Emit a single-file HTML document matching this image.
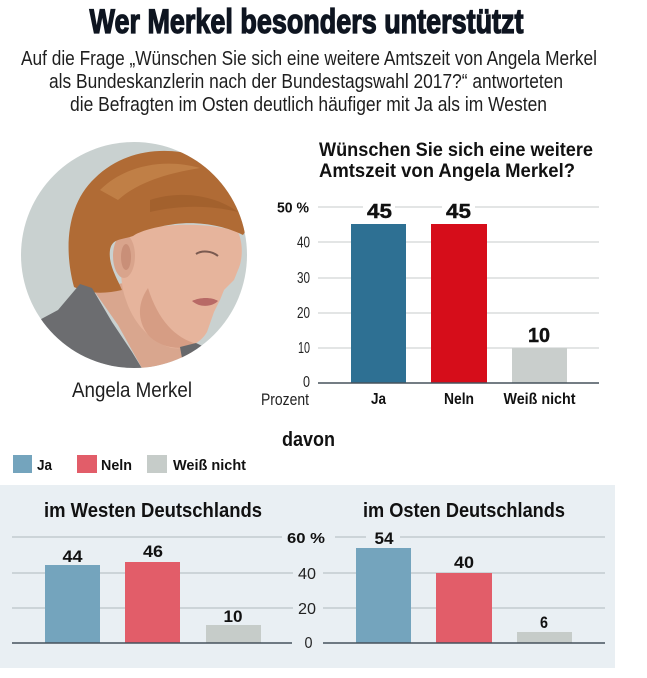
<!DOCTYPE html>
<html><head><meta charset="utf-8"><style>
html,body{margin:0;padding:0;background:#fff;}
svg{display:block;}
text{font-family:"Liberation Sans",sans-serif;}
</style></head><body>
<svg width="647" height="678" viewBox="0 0 647 678" xmlns="http://www.w3.org/2000/svg">
<rect width="647" height="678" fill="#fff"/>

<!-- Header -->
<text x="306.5" y="33" font-size="34" font-weight="bold" fill="#0e1520" stroke="#0e1520" stroke-width="1.3" text-anchor="middle" textLength="434" lengthAdjust="spacingAndGlyphs">Wer Merkel besonders unterstützt</text>
<text x="309" y="65" font-size="20" fill="#1e1e1e" text-anchor="middle" textLength="576" lengthAdjust="spacingAndGlyphs">Auf die Frage „Wünschen Sie sich eine weitere Amtszeit von Angela Merkel</text>
<text x="306" y="88" font-size="20" fill="#1e1e1e" text-anchor="middle" textLength="514" lengthAdjust="spacingAndGlyphs">als Bundeskanzlerin nach der Bundestagswahl 2017?“ antworteten</text>
<text x="308.5" y="111" font-size="20" fill="#1e1e1e" text-anchor="middle" textLength="477" lengthAdjust="spacingAndGlyphs">die Befragten im Osten deutlich häufiger mit Ja als im Westen</text>

<!-- Photo -->
<defs><clipPath id="cc"><circle cx="134" cy="255" r="113"/></clipPath></defs>
<circle cx="134" cy="255" r="113" fill="#c9d1d0"/>
<g clip-path="url(#cc)">
  <!-- neck skin -->
  <path d="M92,288 L130,282 L165,320 L190,343 L195,360 L175,370 L143,370 L118,325 Z" fill="#d9a68e"/>
  <!-- face -->
  <path d="M128,234 C160,222 210,222 238,232 C244,245 242,262 238,270 L234,280 L224,290 L220,300 L214,312 L207,332 C200,344 186,350 172,348 C150,342 133,322 126,300 C120,285 118,255 128,234 Z" fill="#e6b49c"/>
  <path d="M148,288 C158,320 175,338 197,344 C185,350 165,350 150,337 C138,324 136,305 148,288 Z" fill="#d69d84"/>
  <!-- eye, lips -->
  <path d="M196,254 C202,250 212,251 218,256" stroke="#7a5a50" stroke-width="2" fill="none"/>
  <path d="M192,301 C200,297 212,297 218,301 C212,307 200,308 192,301 Z" fill="#b86a66"/>
  <!-- ear -->
  <ellipse cx="124" cy="256" rx="11" ry="22" fill="#d9a48c"/>
  <ellipse cx="126" cy="257" rx="5" ry="13" fill="#c98f78"/>
  <!-- hair -->
  <path d="M74,287 C64,250 66,205 95,178 C118,155 150,148 180,152 C215,156 246,180 248,212 C249,222 247,230 243,235 C225,226 200,221 175,224 C155,227 140,231 133,236 C122,240 112,238 110,250 C108,265 118,280 122,290 C105,294 88,294 74,287 Z" fill="#b06b35"/>
  <path d="M100,190 C125,165 165,158 200,168 C175,172 140,180 118,200 Z" fill="#c4854b" opacity="0.8"/>
  <path d="M150,200 C180,190 215,195 238,212 C210,205 180,205 150,212 Z" fill="#9e5c2b" opacity="0.7"/>
  <!-- jacket -->
  <path d="M30,325 L58,310 L80,284 L92,288 L112,322 L132,352 L146,375 L20,375 Z" fill="#6c6d70"/>
  <path d="M180,347 L196,343 L215,352 L220,375 L185,375 Z" fill="#67686b"/>
</g>
<text x="132" y="397" font-size="21" fill="#1e1e1e" text-anchor="middle" textLength="120" lengthAdjust="spacingAndGlyphs">Angela Merkel</text>

<!-- Top chart -->
<text x="319" y="156" font-size="19" font-weight="bold" fill="#111" textLength="274" lengthAdjust="spacingAndGlyphs">Wünschen Sie sich eine weitere</text>
<text x="319" y="177" font-size="19" font-weight="bold" fill="#111" textLength="256" lengthAdjust="spacingAndGlyphs">Amtszeit von Angela Merkel?</text>
<g stroke="#d2d5d5" stroke-width="1.3">
  <line x1="318" y1="207" x2="599" y2="207"/>
  <line x1="318" y1="242" x2="599" y2="242"/>
  <line x1="318" y1="278" x2="599" y2="278"/>
  <line x1="318" y1="313" x2="599" y2="313"/>
  <line x1="318" y1="348" x2="599" y2="348"/>
</g>
<rect x="363" y="200" width="32" height="12" fill="#fff"/>
<rect x="442" y="200" width="33" height="12" fill="#fff"/>
<rect x="351" y="224" width="55" height="159" fill="#2e7093"/>
<rect x="431" y="224" width="56" height="159" fill="#d60d1a"/>
<rect x="512" y="348" width="55" height="35" fill="#c9cecc"/>
<line x1="318" y1="383" x2="599" y2="383" stroke="#46525c" stroke-width="1.6"/>
<g font-size="20" font-weight="bold" fill="#111" text-anchor="middle" stroke="#111" stroke-width="0.4">
  <text x="379.5" y="218" textLength="25" lengthAdjust="spacingAndGlyphs">45</text>
  <text x="458.5" y="218" textLength="25" lengthAdjust="spacingAndGlyphs">45</text>
  <text x="539" y="342" textLength="22" lengthAdjust="spacingAndGlyphs">10</text>
</g>
<text x="309" y="212.5" font-size="15" font-weight="bold" fill="#111" text-anchor="end" textLength="32" lengthAdjust="spacingAndGlyphs">50 %</text>
<g font-size="16" fill="#222" text-anchor="end">
  <text x="310" y="247.5" textLength="13" lengthAdjust="spacingAndGlyphs">40</text>
  <text x="310" y="283" textLength="13" lengthAdjust="spacingAndGlyphs">30</text>
  <text x="310" y="318" textLength="13" lengthAdjust="spacingAndGlyphs">20</text>
  <text x="310" y="353" textLength="12" lengthAdjust="spacingAndGlyphs">10</text>
  <text x="310" y="387" textLength="7" lengthAdjust="spacingAndGlyphs">0</text>
</g>
<text x="261" y="405" font-size="17" fill="#222" textLength="48" lengthAdjust="spacingAndGlyphs">Prozent</text>
<g font-size="16" font-weight="bold" fill="#111" text-anchor="middle">
  <text x="378.5" y="404" textLength="15" lengthAdjust="spacingAndGlyphs">Ja</text>
  <text x="459" y="404" textLength="30" lengthAdjust="spacingAndGlyphs">Neln</text>
  <text x="539.5" y="404" textLength="72" lengthAdjust="spacingAndGlyphs">Weiß nicht</text>
</g>

<!-- davon + legend -->
<text x="282" y="446" font-size="20" font-weight="bold" fill="#111" textLength="53" lengthAdjust="spacingAndGlyphs">davon</text>
<rect x="13" y="455" width="19" height="18" fill="#74a4bd"/>
<rect x="77" y="455" width="20" height="18" fill="#e25d69"/>
<rect x="147" y="455" width="20" height="18" fill="#c6ccc9"/>
<g font-size="15" font-weight="bold" fill="#111">
  <text x="37" y="470" textLength="15" lengthAdjust="spacingAndGlyphs">Ja</text>
  <text x="101" y="470" textLength="31" lengthAdjust="spacingAndGlyphs">Neln</text>
  <text x="173" y="470" textLength="73" lengthAdjust="spacingAndGlyphs">Weiß nicht</text>
</g>

<!-- bottom panel -->
<rect x="0" y="485" width="615" height="183" fill="#e9eff3"/>
<text x="44" y="517" font-size="20" font-weight="bold" fill="#111" textLength="218" lengthAdjust="spacingAndGlyphs">im Westen Deutschlands</text>
<text x="363" y="517" font-size="20" font-weight="bold" fill="#111" textLength="202" lengthAdjust="spacingAndGlyphs">im Osten Deutschlands</text>
<g stroke="#bcc3c7" stroke-width="1.3">
  <line x1="12" y1="537" x2="282" y2="537"/>
  <line x1="12" y1="573" x2="293" y2="573"/>
  <line x1="12" y1="608" x2="293" y2="608"/>
  <line x1="335" y1="537" x2="366" y2="537"/>
  <line x1="400" y1="537" x2="605" y2="537"/>
  <line x1="323" y1="573" x2="605" y2="573"/>
  <line x1="323" y1="608" x2="605" y2="608"/>
</g>
<!-- West bars -->
<rect x="45" y="565" width="55" height="78" fill="#74a4bd"/>
<rect x="125" y="562" width="55" height="81" fill="#e25d69"/>
<rect x="206" y="625" width="55" height="18" fill="#c6ccc9"/>
<!-- East bars -->
<rect x="356" y="548" width="55" height="95" fill="#74a4bd"/>
<rect x="436" y="573" width="56" height="70" fill="#e25d69"/>
<rect x="517" y="632" width="55" height="11" fill="#c6ccc9"/>
<line x1="12" y1="643" x2="292" y2="643" stroke="#46525c" stroke-width="1.6"/>
<line x1="323" y1="643" x2="605" y2="643" stroke="#46525c" stroke-width="1.6"/>
<g font-size="17" font-weight="bold" fill="#111" text-anchor="middle">
  <text x="72.5" y="562" textLength="20" lengthAdjust="spacingAndGlyphs">44</text>
  <text x="153" y="557" textLength="20" lengthAdjust="spacingAndGlyphs">46</text>
  <text x="233" y="622" textLength="19" lengthAdjust="spacingAndGlyphs">10</text>
  <text x="384" y="544" textLength="19" lengthAdjust="spacingAndGlyphs">54</text>
  <text x="464" y="568" textLength="20" lengthAdjust="spacingAndGlyphs">40</text>
  <text x="544" y="628" textLength="8" lengthAdjust="spacingAndGlyphs">6</text>
</g>
<text x="306" y="543" font-size="15" font-weight="bold" fill="#111" text-anchor="middle" textLength="38" lengthAdjust="spacingAndGlyphs">60 %</text>
<g font-size="16" fill="#222" text-anchor="middle">
  <text x="307" y="579" textLength="18" lengthAdjust="spacingAndGlyphs">40</text>
  <text x="307" y="614" textLength="18" lengthAdjust="spacingAndGlyphs">20</text>
  <text x="308.5" y="648" textLength="8" lengthAdjust="spacingAndGlyphs">0</text>
</g>
</svg>
</body></html>
